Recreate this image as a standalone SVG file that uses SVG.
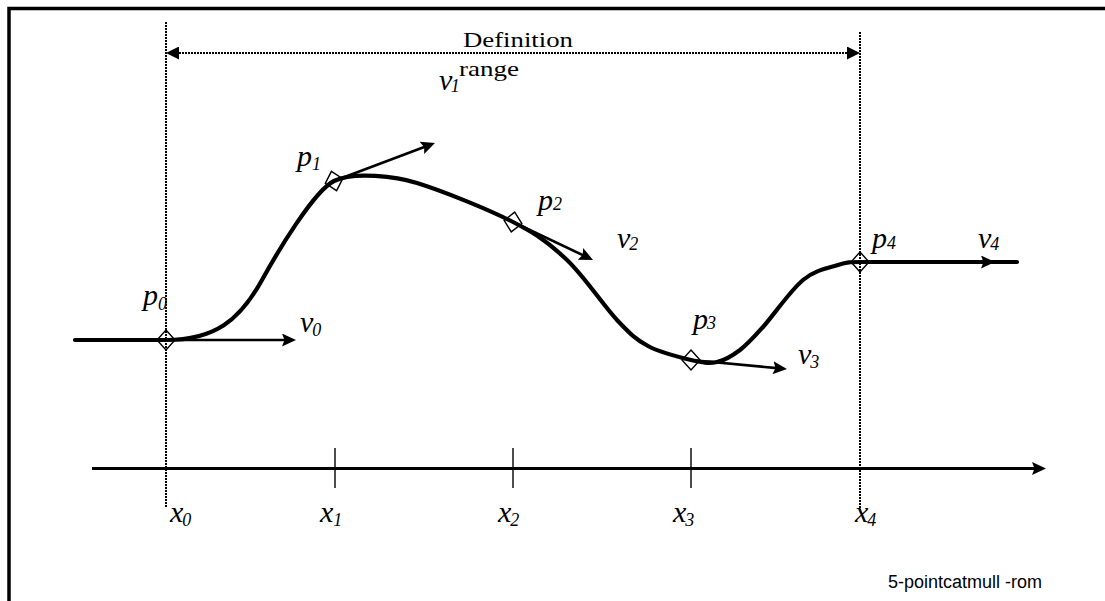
<svg xmlns="http://www.w3.org/2000/svg" width="1105" height="601" viewBox="0 0 1105 601">
<style>
.frame{fill:none;stroke:#000;stroke-width:3.5}
.dot{fill:none;stroke:#000;stroke-width:2;stroke-dasharray:2 1}
.curve{fill:none;stroke:#000;stroke-width:4.2;stroke-linecap:round;stroke-linejoin:round}
.vec{fill:none;stroke:#000;stroke-width:2.6}
.axis{fill:none;stroke:#000;stroke-width:2.8}
.tick{fill:none;stroke:#000;stroke-width:1.4}
.dia{fill:none;stroke:#000;stroke-width:1.4}
.lab{font-family:"Liberation Serif","Times New Roman",serif;font-style:italic;font-size:30px;fill:#000}
.sub{font-size:18px}
.title{font-family:"Liberation Serif","Times New Roman",serif;font-size:22px;fill:#000}
.cap{font-family:"Liberation Sans",Arial,sans-serif;font-size:18px;fill:#000}
</style>
<defs>
<marker id="ah" viewBox="0 0 14 13" refX="4" refY="6.5" markerWidth="14" markerHeight="13" markerUnits="userSpaceOnUse" orient="auto">
<path d="M0,0 L14,6.5 L0,13 L2.5,6.5 z" fill="#000"/>
</marker>
<marker id="rh" viewBox="0 0 13 13" refX="0" refY="6.5" markerWidth="13" markerHeight="13" markerUnits="userSpaceOnUse" orient="auto-start-reverse">
<path d="M0,0 L13,6.5 L0,13 z" fill="#000"/>
</marker>
</defs>
<rect width="1105" height="601" fill="#fff"/>
<path class="frame" d="M9,601 L9,8.5 L1105,8.5"/>

<g id="connectors">
<line class="dot" x1="166" y1="22" x2="166" y2="508"/>
<line class="dot" x1="860" y1="32" x2="860" y2="510"/>
<line class="dot" x1="179" y1="53" x2="847" y2="53" marker-start="url(#rh)" marker-end="url(#rh)"/>
<line class="axis" x1="92" y1="468.5" x2="1036" y2="468.5" marker-end="url(#ah)"/>
<line class="tick" x1="335" y1="448" x2="335" y2="488"/>
<line class="tick" x1="513" y1="448" x2="513" y2="488"/>
<line class="tick" x1="691" y1="448" x2="691" y2="488"/>
<path id="curve" class="curve" d="M75,340 L166,340 C215,340 240,320 262,280 C278,251 314,191 334,181 C354,171 397,176.8 417,183 C442.2,190.8 488,209.2 513,222 C538,234.8 549.7,243.7 567,260 C584.3,276.3 603.5,305.7 617,320 C630.5,334.3 635.7,339.3 648,346 C660.3,352.7 679.5,357.3 691,360 C702.5,362.7 708.8,363.7 717,362 C725.2,360.3 732.3,355.8 740,350 C747.7,344.2 752.5,338.7 763,327 C773.5,315.3 790.5,290.3 803,280 C815.5,269.7 828.5,268 838,265 C847.5,262 850,262 860,262 L1017,262"/>
<line class="vec" x1="166" y1="340" x2="286" y2="340" marker-end="url(#ah)"/>
<line class="vec" x1="334" y1="181" x2="425.6" y2="146.5" marker-end="url(#ah)"/>
<line class="vec" x1="513" y1="222" x2="584" y2="255.7" marker-end="url(#ah)"/>
<line class="vec" x1="691" y1="360" x2="777" y2="368.1" marker-end="url(#ah)"/>
<line class="vec" x1="860" y1="262" x2="985" y2="262" marker-end="url(#ah)"/>
</g>

<g id="p0"><path class="dia" d="M166,330 L175,340 L166,350 L157,340 z"/><text class="lab" x="143" y="304.5">p<tspan class="sub" dy="5">0</tspan></text></g>
<g id="p1"><path class="dia" d="M334,171 L343,181 L334,191 L325,181 z" transform="rotate(-15 334 181)"/><text class="lab" x="297" y="166">p<tspan class="sub" dy="4">1</tspan></text></g>
<g id="p2"><path class="dia" d="M513,212 L522,222 L513,232 L504,222 z" transform="rotate(10 513 222)"/><text class="lab" x="538" y="209.5">p<tspan class="sub" dy="0">2</tspan></text></g>
<g id="p3"><path class="dia" d="M691,350 L700,360 L691,370 L682,360 z"/><text class="lab" x="693" y="329">p<tspan class="sub" dy="0" dx="-1">3</tspan></text></g>
<g id="p4"><path class="dia" d="M860,252 L869,262 L860,272 L851,262 z"/><text class="lab" x="872" y="248">p<tspan class="sub" dy="1">4</tspan></text></g>

<g id="v0"><text class="lab" x="300" y="331.5">v<tspan class="sub" dy="4.5" dx="-1">0</tspan></text></g>
<g id="v1"><text class="lab" x="439" y="90">v<tspan class="sub" dy="2" dx="-1.5">1</tspan></text></g>
<g id="v2"><text class="lab" x="617" y="248">v<tspan class="sub" dy="2" dx="-1">2</tspan></text></g>
<g id="v3"><text class="lab" x="798" y="364">v<tspan class="sub" dy="4" dx="-1">3</tspan></text></g>
<g id="v4"><text class="lab" x="978" y="248">v<tspan class="sub" dy="2" dx="-1">4</tspan></text></g>

<g id="x0"><text class="lab" x="170" y="522">x<tspan class="sub" dy="4" dx="-1">0</tspan></text></g>
<g id="x1"><text class="lab" x="320" y="522">x<tspan class="sub" dy="4">1</tspan></text></g>
<g id="x2"><text class="lab" x="498" y="522">x<tspan class="sub" dy="4" dx="-1">2</tspan></text></g>
<g id="x3"><text class="lab" x="673" y="522">x<tspan class="sub" dy="4" dx="-1">3</tspan></text></g>
<g id="x4"><text class="lab" x="855" y="522">x<tspan class="sub" dy="4" dx="-1">4</tspan></text></g>

<g id="range-label">
<text class="title" x="463" y="47" textLength="110" lengthAdjust="spacingAndGlyphs">Definition</text>
<text class="title" x="459" y="76" textLength="60" lengthAdjust="spacingAndGlyphs">range</text>
</g>
<g id="caption"><text class="cap" x="888" y="588">5-pointcatmull -rom</text></g>
</svg>
